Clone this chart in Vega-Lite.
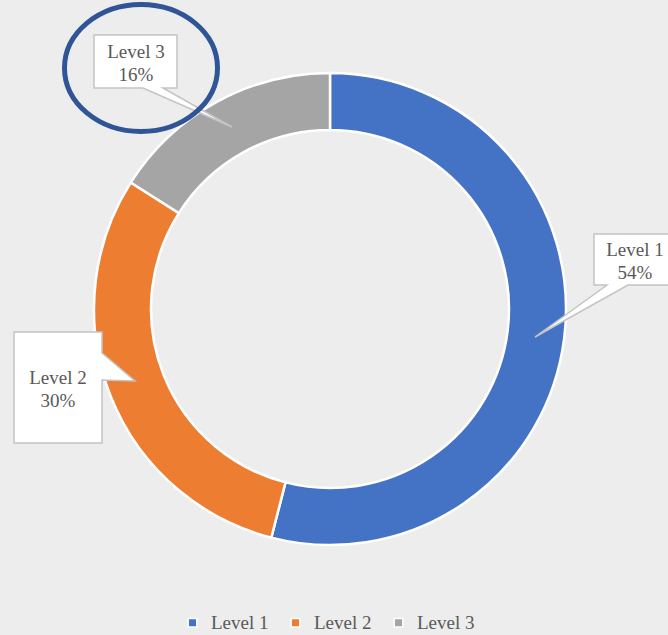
{
  "$schema": "https://vega.github.io/schema/vega-lite/v6.json",
  "width": 660,
  "height": 618,
  "autosize": {"type": "none"},
  "padding": {"left": 0, "top": 0, "right": 8, "bottom": 17},
  "background": "#EDEDED",
  "config": {"view": {"stroke": null}, "font": "Liberation Serif"},
  "datasets": {
    "slices": [
      {"level": "Level 1", "value": 54, "order": 1},
      {"level": "Level 2", "value": 30, "order": 2},
      {"level": "Level 3", "value": 16, "order": 3}
    ],
    "callouts": [
      {"level": "Level 3", "i": 1, "x": -236, "y": 274},
      {"level": "Level 3", "i": 2, "x": -153, "y": 274},
      {"level": "Level 3", "i": 3, "x": -153, "y": 221},
      {"level": "Level 3", "i": 4, "x": -167, "y": 221},
      {"level": "Level 3", "i": 5, "x": -98, "y": 182},
      {"level": "Level 3", "i": 6, "x": -187, "y": 221},
      {"level": "Level 3", "i": 7, "x": -236, "y": 221},
      {"level": "Level 1", "i": 1, "x": 264, "y": 75},
      {"level": "Level 1", "i": 2, "x": 346, "y": 75},
      {"level": "Level 1", "i": 3, "x": 346, "y": 24},
      {"level": "Level 1", "i": 4, "x": 298, "y": 24},
      {"level": "Level 1", "i": 5, "x": 205, "y": -28},
      {"level": "Level 1", "i": 6, "x": 277, "y": 24},
      {"level": "Level 1", "i": 7, "x": 264, "y": 24},
      {"level": "Level 2", "i": 1, "x": -316, "y": -23},
      {"level": "Level 2", "i": 2, "x": -228, "y": -23},
      {"level": "Level 2", "i": 3, "x": -228, "y": -44},
      {"level": "Level 2", "i": 4, "x": -195, "y": -72},
      {"level": "Level 2", "i": 5, "x": -228, "y": -71},
      {"level": "Level 2", "i": 6, "x": -228, "y": -134},
      {"level": "Level 2", "i": 7, "x": -316, "y": -134}
    ],
    "labels": [
      {"level": "Level 1", "label": "Level 1\n54%", "x": 305, "y": 59},
      {"level": "Level 2", "label": "Level 2\n30%", "x": -272, "y": -69},
      {"level": "Level 3", "label": "Level 3\n16%", "x": -194, "y": 257}
    ],
    "highlight": [
      {"note": "Level 3", "x": -189, "y": 241}
    ]
  },
  "layer": [
    {
      "data": {"name": "slices"},
      "mark": {"type": "arc", "innerRadius": 179, "outerRadius": 236, "stroke": "#FFFFFF", "strokeWidth": 2.5},
      "encoding": {
        "theta": {"field": "value", "type": "quantitative", "stack": true},
        "order": {"field": "order", "type": "quantitative"},
        "color": {
          "field": "level",
          "type": "nominal",
          "scale": {"domain": ["Level 1", "Level 2", "Level 3"], "range": ["#4472C4", "#ED7D31", "#A5A5A5"]},
          "legend": {
            "title": null,
            "orient": "none",
            "direction": "horizontal",
            "legendX": 183,
            "legendY": 613,
            "symbolType": "square",
            "symbolSize": 75,
            "symbolStrokeColor": "#FFFFFF",
            "symbolStrokeWidth": 1.5,
            "labelFont": "Liberation Serif",
            "labelFontSize": 19,
            "labelColor": "#595959",
            "labelOffset": 9,
            "columnPadding": 17
          }
        }
      }
    },
    {
      "data": {"name": "callouts"},
      "mark": {"type": "line", "interpolate": "linear-closed", "fill": "#FFFFFF", "stroke": "#C4C4C4", "strokeWidth": 1.5},
      "encoding": {
        "x": {"field": "x", "type": "quantitative", "scale": {"domain": [-330, 330], "nice": false, "zero": false}, "axis": null},
        "y": {"field": "y", "type": "quantitative", "scale": {"domain": [-309, 309], "nice": false, "zero": false}, "axis": null},
        "detail": {"field": "level", "type": "nominal"},
        "order": {"field": "i", "type": "quantitative"}
      }
    },
    {
      "data": {"name": "labels"},
      "mark": {"type": "text", "font": "Liberation Serif", "fontSize": 19, "lineHeight": 23, "color": "#595959", "align": "center", "baseline": "middle", "lineBreak": "\n"},
      "encoding": {
        "x": {"field": "x", "type": "quantitative"},
        "y": {"field": "y", "type": "quantitative"},
        "text": {"field": "label", "type": "nominal"}
      }
    },
    {
      "data": {"name": "highlight"},
      "mark": {"type": "point", "shape": "M -1 0 A 1 0.83 0 1 1 1 0 A 1 0.83 0 1 1 -1 0 Z", "size": 23409, "filled": false, "stroke": "#2F5597", "strokeWidth": 5, "opacity": 1},
      "encoding": {
        "x": {"field": "x", "type": "quantitative"},
        "y": {"field": "y", "type": "quantitative"}
      }
    }
  ]
}
